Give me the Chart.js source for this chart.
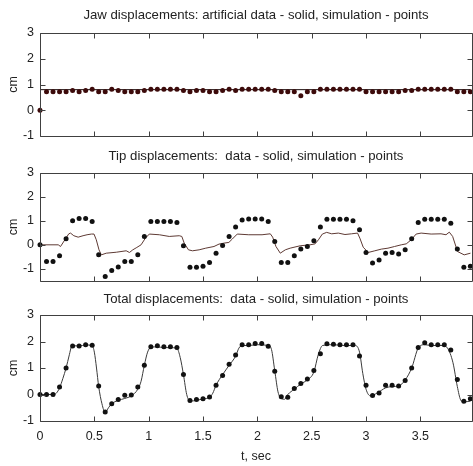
<!DOCTYPE html>
<html>
<head>
<meta charset="utf-8">
<script src="https://cdn.jsdelivr.net/npm/chart.js@4.4.0/dist/chart.umd.min.js"></script>
<style>
html, body { margin: 0; padding: 0; background: #fff; overflow: hidden; }
.panel { position: absolute; left: 0; }
</style>
</head>
<body>
<div class="panel" style="top:0px"><canvas id="jawChart" width="476" height="140"></canvas></div>
<div class="panel" style="top:140px"><canvas id="tipChart" width="476" height="145"></canvas></div>
<div class="panel" style="top:285px"><canvas id="totalChart" width="476" height="181"></canvas></div>
<script>
// sample times of the simulation points (s)
var times = [0, 0.06, 0.12, 0.18, 0.24, 0.3, 0.36, 0.42, 0.48, 0.54,
    0.6, 0.66, 0.72, 0.78, 0.84, 0.9, 0.96, 1.02, 1.08, 1.14,
    1.2, 1.26, 1.32, 1.38, 1.44, 1.5, 1.56, 1.62, 1.68, 1.74,
    1.8, 1.86, 1.92, 1.98, 2.04, 2.1, 2.16, 2.22, 2.28, 2.34,
    2.4, 2.46, 2.52, 2.58, 2.64, 2.7, 2.76, 2.82, 2.88, 2.94,
    3.0, 3.06, 3.12, 3.18, 3.24, 3.3, 3.36, 3.42, 3.48, 3.54,
    3.6, 3.66, 3.72, 3.78, 3.84, 3.9, 3.96];

var jawSim = [0, 0.72, 0.72, 0.72, 0.72, 0.77, 0.72, 0.77, 0.82, 0.72,
    0.72, 0.82, 0.77, 0.72, 0.72, 0.72, 0.77, 0.82, 0.82, 0.82,
    0.82, 0.82, 0.77, 0.72, 0.77, 0.77, 0.72, 0.72, 0.77, 0.82,
    0.77, 0.82, 0.82, 0.82, 0.82, 0.82, 0.77, 0.72, 0.72, 0.72,
    0.56, 0.72, 0.72, 0.82, 0.82, 0.82, 0.82, 0.82, 0.82, 0.82,
    0.72, 0.72, 0.72, 0.72, 0.72, 0.72, 0.77, 0.77, 0.82, 0.82,
    0.82, 0.82, 0.82, 0.82, 0.72, 0.72, 0.72];
var jawLineT = [0, 3.96];
var jawLineY = [0.8, 0.8];

var tipSim = [0, -0.7, -0.7, -0.46, 0.25, 1.01, 1.1, 1.1, 0.97, -0.42,
    -1.32, -1.07, -0.93, -0.7, -0.7, -0.42, 0.35, 0.97, 0.97, 0.97,
    0.97, 0.93, -0.04, -0.94, -0.94, -0.9, -0.74, -0.35, -0.03, 0.35,
    0.74, 1.04, 1.08, 1.08, 1.08, 0.97, 0.14, -0.74, -0.74, -0.46,
    -0.17, -0.07, 0.17, 0.74, 1.07, 1.07, 1.07, 1.07, 1.01, 0.63,
    -0.32, -0.76, -0.63, -0.35, -0.32, -0.38, -0.21, 0.25, 0.93, 1.07,
    1.07, 1.07, 1.07, 0.9, -0.17, -0.94, -0.9];
var tipLineT = [0, 0.168, 0.189, 0.229, 0.265, 0.281, 0.311, 0.351, 0.396, 0.433,
    0.473, 0.497, 0.518, 0.543, 0.564, 0.61, 0.702, 0.793, 0.823, 0.854,
    0.891, 0.93, 0.97, 1.006, 1.098, 1.189, 1.281, 1.305, 1.327, 1.366,
    1.403, 1.464, 1.525, 1.601, 1.647, 1.693, 1.738, 1.769, 1.815, 1.921,
    2.043, 2.119, 2.141, 2.171, 2.211, 2.257, 2.302, 2.394, 2.485, 2.531,
    2.562, 2.598, 2.638, 2.684, 2.745, 2.806, 2.867, 2.922, 2.943, 2.974,
    3.02, 3.081, 3.141, 3.202, 3.263, 3.324, 3.37, 3.416, 3.461, 3.507,
    3.599, 3.69, 3.736, 3.766, 3.797, 3.842, 3.903, 3.961];
var tipLineY = [0, 0, -0.07, 0.21, 0.46, 0.49, 0.38, 0.32, 0.38, 0.42,
    0.45, 0.45, 0.21, -0.21, -0.42, -0.35, -0.31, -0.25, -0.32, -0.21,
    -0.11, 0, 0.28, 0.45, 0.42, 0.35, 0.38, 0.35, 0.07, -0.21,
    -0.25, -0.21, -0.14, -0.07, 0.03, 0.07, 0.1, 0.24, 0.45, 0.42,
    0.42, 0.46, 0.32, -0.07, -0.35, -0.21, -0.14, -0.04, 0, 0.04,
    0.21, 0.45, 0.52, 0.46, 0.49, 0.43, 0.46, 0.49, 0.28, -0.1,
    -0.32, -0.25, -0.18, -0.14, -0.07, 0, 0.04, 0.21, 0.45, 0.49,
    0.45, 0.46, 0.42, 0.53, 0.35, -0.28, -0.42, -0.35];

var totalSim = [0, 0, 0, 0.28, 1.0, 1.83, 1.83, 1.88, 1.86, 0.32,
    -0.66, -0.35, -0.19, -0.03, -0.02, 0.28, 1.1, 1.8, 1.84, 1.8,
    1.8, 1.77, 0.76, -0.23, -0.19, -0.16, -0.09, 0.35, 0.72, 1.14,
    1.49, 1.88, 1.88, 1.93, 1.93, 1.82, 0.88, -0.08, -0.1, 0.23,
    0.42, 0.59, 0.91, 1.54, 1.92, 1.9, 1.88, 1.88, 1.88, 1.45,
    0.35, -0.04, 0.06, 0.35, 0.35, 0.32, 0.53, 1.0, 1.77, 1.95,
    1.88, 1.88, 1.88, 1.68, 0.57, -0.25, -0.16];
var totalLineT = [0, 0.12, 0.15, 0.18, 0.21, 0.24, 0.27, 0.29, 0.32, 0.36,
    0.42, 0.48, 0.5, 0.52, 0.54, 0.57, 0.6, 0.63, 0.66, 0.72,
    0.78, 0.84, 0.9, 0.93, 0.96, 0.99, 1.02, 1.08, 1.14, 1.2,
    1.26, 1.29, 1.32, 1.35, 1.38, 1.44, 1.5, 1.56, 1.59, 1.62,
    1.68, 1.74, 1.8, 1.83, 1.86, 1.92, 2.0, 2.1, 2.13, 2.16,
    2.19, 2.22, 2.25, 2.28, 2.34, 2.4, 2.46, 2.52, 2.56, 2.6,
    2.7, 2.8, 2.9, 2.94, 2.97, 3.0, 3.04, 3.1, 3.18, 3.24,
    3.3, 3.36, 3.42, 3.48, 3.54, 3.6, 3.7, 3.75, 3.8, 3.84,
    3.87, 3.9, 3.96];
var totalLineY = [0, 0, 0.05, 0.25, 0.6, 1.0, 1.5, 1.8, 1.84, 1.83,
    1.87, 1.85, 1.6, 1.0, 0.3, -0.35, -0.68, -0.5, -0.35, -0.22,
    -0.15, -0.05, 0.2, 0.5, 1.1, 1.6, 1.78, 1.8, 1.77, 1.77,
    1.74, 1.4, 0.75, 0.0, -0.25, -0.22, -0.17, -0.1, 0.05, 0.35,
    0.75, 1.1, 1.45, 1.75, 1.85, 1.85, 1.88, 1.85, 1.7, 0.9,
    0.1, -0.15, -0.18, 0.0, 0.2, 0.4, 0.55, 0.85, 1.5, 1.85,
    1.88, 1.85, 1.85, 1.6, 0.8, 0.2, -0.05, 0.05, 0.25, 0.3,
    0.32, 0.55, 1.0, 1.75, 1.88, 1.85, 1.85, 1.75, 1.2, 0.3,
    -0.2, -0.28, -0.25];

var xTicks = [0, 0.5, 1, 1.5, 2, 2.5, 3, 3.5];
var xTickLabels = ['0', '0.5', '1', '1.5', '2', '2.5', '3', '3.5'];
var yTicks = [-1, 0, 1, 2, 3];

var textColor = '#222';
var axisColor = '#404040';
var fontFamily = 'Liberation Sans, Arial, sans-serif';

function pairs(xs, ys) {
    return xs.map(function (x, i) { return {x: x, y: ys[i]}; });
}

// MATLAB-style box with inward ticks on all four sides
var axesBox = {
    id: 'axesBox',
    afterDraw: function (chart) {
        var a = chart.chartArea, c = chart.ctx;
        var xs = chart.scales.x, ys = chart.scales.y;
        var l = Math.round(a.left) + 0.5, r = Math.round(a.right) + 0.5;
        var t = Math.round(a.top) + 0.5, b = Math.round(a.bottom) + 0.5;
        c.save();
        c.strokeStyle = axisColor;
        c.lineWidth = 1;
        c.beginPath();
        c.rect(l, t, r - l, b - t);
        xTicks.forEach(function (v) {
            var px = Math.round(xs.getPixelForValue(v)) + 0.5;
            c.moveTo(px, t); c.lineTo(px, t + 5);
            c.moveTo(px, b); c.lineTo(px, b - 5);
        });
        yTicks.forEach(function (v) {
            var py = Math.round(ys.getPixelForValue(v)) + 0.5;
            c.moveTo(l, py); c.lineTo(l + 5, py);
            c.moveTo(r, py); c.lineTo(r - 5, py);
        });
        c.stroke();
        c.restore();
    }
};

function makePanel(id, cfg) {
    var ctx = document.getElementById(id).getContext('2d');
    return new Chart(ctx, {
        type: 'scatter',
        data: {
            datasets: [{
                data: pairs(times, cfg.sim),
                showLine: false,
                pointRadius: 2.5,
                pointBorderWidth: 0,
                pointBackgroundColor: cfg.pointColor,
                clip: 6
            }, {
                data: pairs(cfg.lineT, cfg.lineY),
                showLine: true,
                pointRadius: 0,
                borderColor: cfg.lineColor,
                borderWidth: 1,
                cubicInterpolationMode: cfg.smooth ? 'monotone' : 'default',
                tension: 0
            }]
        },
        plugins: [axesBox],
        options: {
            responsive: false,
            animation: false,
            events: [],
            layout: {padding: {left: 0, right: 2, top: 0, bottom: 0}},
            plugins: {
                legend: {display: false},
                tooltip: {enabled: false},
                title: {
                    display: true,
                    fullSize: false,
                    text: cfg.title,
                    color: textColor,
                    font: {family: fontFamily, size: 13.2, weight: 'normal', lineHeight: 1.2},
                    padding: cfg.titlePad
                }
            },
            scales: {
                x: {
                    type: 'linear',
                    min: 0,
                    max: 3.975,
                    grid: {display: false, drawTicks: false},
                    border: {display: false},
                    afterBuildTicks: function (s) {
                        s.ticks = xTicks.map(function (v) { return {value: v}; });
                    },
                    afterFit: function (s) {
                        s.height = cfg.xHeight;
                        s.paddingLeft = 0; s.paddingRight = 0;
                    },
                    ticks: {
                        display: cfg.showX,
                        color: textColor,
                        padding: 8,
                        maxRotation: 0,
                        autoSkip: false,
                        font: {family: fontFamily, size: 12.5},
                        callback: function (v) { return xTickLabels[xTicks.indexOf(v)]; }
                    },
                    title: {
                        display: cfg.showX,
                        text: 't, sec',
                        color: textColor,
                        font: {family: fontFamily, size: 12.5},
                        padding: {top: 0, bottom: 2}
                    }
                },
                y: {
                    min: cfg.yMin,
                    max: 3,
                    grid: {display: false, drawTicks: false},
                    border: {display: false},
                    afterBuildTicks: function (s) {
                        s.ticks = yTicks.map(function (v) { return {value: v}; });
                    },
                    afterFit: function (s) {
                        s.width = 40;
                        s.paddingTop = 0; s.paddingBottom = 0;
                    },
                    ticks: {
                        color: textColor,
                        padding: 6,
                        font: {family: fontFamily, size: 12.5}
                    },
                    title: {
                        display: true,
                        text: 'cm',
                        color: textColor,
                        font: {family: fontFamily, size: 12.5},
                        padding: {top: 6, bottom: 0}
                    }
                }
            }
        }
    });
}

makePanel('jawChart', {
    title: 'Jaw displacements: artificial data - solid, simulation - points',
    titlePad: {top: 7.1, bottom: 10.1},
    sim: jawSim, lineT: jawLineT, lineY: jawLineY,
    lineColor: '#1a0a0a', pointColor: '#3c0a0a',
    yMin: -1, xHeight: 4, showX: false, smooth: false
});

makePanel('tipChart', {
    title: 'Tip displacements:  data - solid, simulation - points',
    titlePad: {top: 8.8, bottom: 8.4},
    sim: tipSim, lineT: tipLineT, lineY: tipLineY,
    lineColor: '#5e3a34', pointColor: '#111',
    yMin: -1.5, xHeight: 4.3, showX: false, smooth: false
});

makePanel('totalChart', {
    title: 'Total displacements:  data - solid, simulation - points',
    titlePad: {top: 6.9, bottom: 7.3},
    sim: totalSim, lineT: totalLineT, lineY: totalLineY,
    lineColor: '#3a3a3a', pointColor: '#111',
    yMin: -1, xHeight: 45, showX: true, smooth: true
});
</script>
</body>
</html>
